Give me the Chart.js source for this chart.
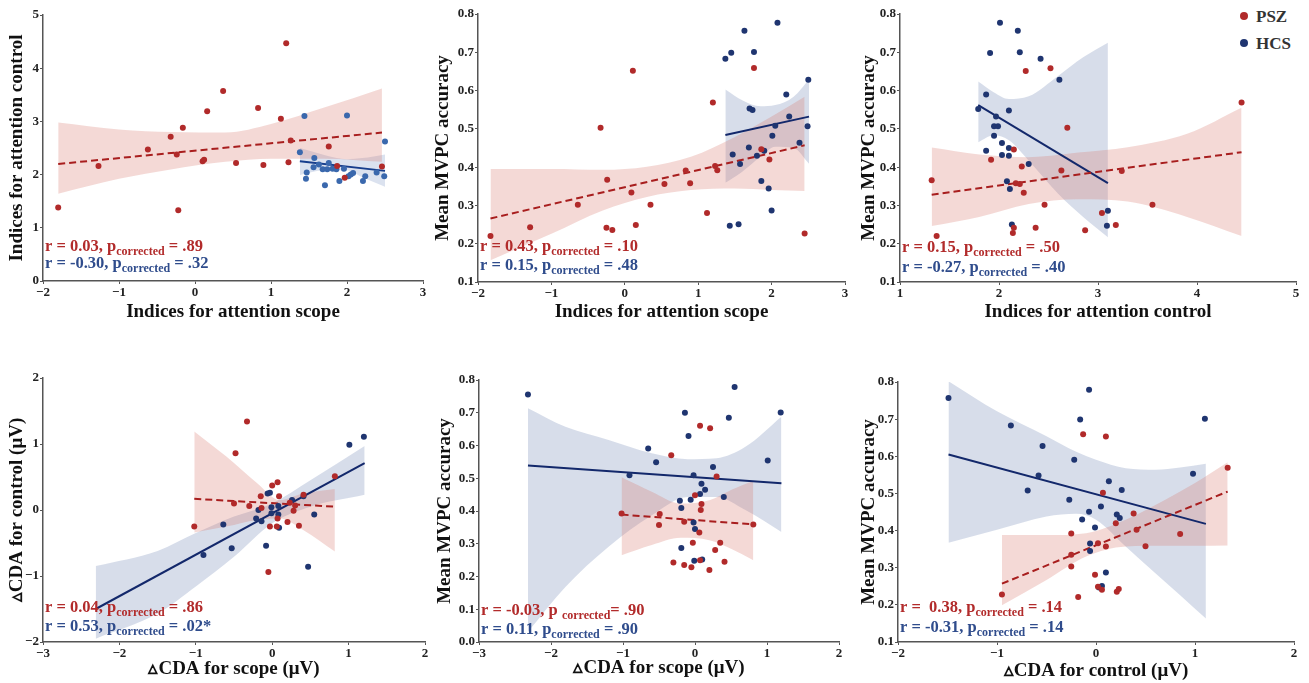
<!DOCTYPE html>
<html>
<head>
<meta charset="utf-8">
<script src="https://cdn.jsdelivr.net/npm/chart.js@4/dist/chart.umd.min.js"></script>
<style>
  body { margin: 0; background: #fff; width: 1309px; height: 683px; position: relative; overflow: hidden; }
  canvas { position: absolute; }
  .legend { position: absolute; left: 1240px; top: 3px; font: bold 17px "Liberation Serif", serif; color: #333; }
  .legend div { height: 27px; line-height: 27px; }
  .legend span { display: inline-block; width: 8px; height: 8px; border-radius: 50%; margin-right: 8px; vertical-align: 2px; }
</style>
</head>
<body>
<div class="legend">
  <div><span style="background:#b12a2a"></span>PSZ</div>
  <div><span style="background:#1f3570"></span>HCS</div>
</div>
<script>
// ---- data: [x, y] per subject ----
// panel 1: attention scope vs attention control
const p1PSZ = [[-1.80,1.38],[-1.27,2.16],[-0.62,2.47],[-0.32,2.71],[-0.24,2.38],[-0.22,1.33],[-0.16,2.88],[0.10,2.25],[0.12,2.28],[0.16,3.19],[0.37,3.57],[0.54,2.22],[0.83,3.25],[0.90,2.18],[1.13,3.05],[1.20,4.47],[1.23,2.23],[1.26,2.64],[1.76,2.53],[1.87,2.16],[1.97,1.94],[2.46,2.15]];
const p1HCS = [[1.38,2.42],[1.44,3.10],[1.46,1.92],[1.47,2.04],[1.56,2.14],[1.57,2.31],[1.63,2.19],[1.68,2.10],[1.71,1.80],[1.74,2.10],[1.76,2.22],[1.81,2.11],[1.86,2.10],[1.90,1.88],[1.96,2.11],[2.00,3.11],[2.02,1.97],[2.05,2.00],[2.08,2.03],[2.21,1.88],[2.24,1.97],[2.39,2.04],[2.49,1.97],[2.50,2.62]];
const p1FitPSZ = [[-1.80,2.20],[2.46,2.79]];
const p1FitHCS = [[1.38,2.25],[2.50,2.07]];
// bands: [x, lower, upper]
const p1BandPSZ = [[-1.80,1.64,2.98],[-1.0,1.92,2.85],[-0.3,2.10,2.80],[0.4,2.24,2.79],[1.0,2.30,2.95],[1.7,2.30,3.26],[2.46,2.24,3.62]];
const p1BandHCS = [[1.38,1.99,2.50],[1.7,2.08,2.37],[2.0,2.08,2.29],[2.2,1.95,2.31],[2.5,1.77,2.38]];

// panel 2: attention scope vs MVPC accuracy
const p2PSZ = [[-1.83,0.220],[-1.29,0.243],[-0.64,0.302],[-0.33,0.503],[-0.25,0.242],[-0.24,0.367],[-0.17,0.236],[0.09,0.334],[0.11,0.652],[0.15,0.249],[0.35,0.302],[0.54,0.356],[0.83,0.391],[0.89,0.358],[1.12,0.280],[1.20,0.569],[1.23,0.403],[1.26,0.392],[1.76,0.659],[1.86,0.447],[1.97,0.420],[2.45,0.227]];
const p2HCS = [[1.37,0.683],[1.43,0.247],[1.45,0.699],[1.47,0.433],[1.55,0.251],[1.57,0.408],[1.63,0.756],[1.69,0.451],[1.70,0.553],[1.74,0.549],[1.76,0.701],[1.80,0.430],[1.86,0.364],[1.90,0.443],[1.96,0.344],[2.00,0.287],[2.01,0.482],[2.05,0.508],[2.08,0.777],[2.20,0.590],[2.24,0.532],[2.38,0.464],[2.49,0.507],[2.50,0.628]];
const p2FitPSZ = [[-1.83,0.266],[2.45,0.457]];
const p2FitHCS = [[1.37,0.484],[2.51,0.532]];
const p2BandPSZ = [[-1.83,0.157,0.395],[-1.0,0.226,0.395],[-0.3,0.287,0.393],[0.3,0.322,0.401],[0.9,0.340,0.427],[1.5,0.344,0.479],[2.0,0.340,0.532],[2.45,0.338,0.584]];
const p2BandHCS = [[1.37,0.359,0.603],[1.6,0.388,0.575],[1.85,0.427,0.559],[2.05,0.453,0.562],[2.3,0.450,0.584],[2.51,0.409,0.629]];

// panel 3: attention control vs MVPC accuracy
const p3PSZ = [[1.32,0.366],[1.37,0.220],[1.92,0.419],[2.14,0.228],[2.15,0.446],[2.15,0.242],[2.17,0.358],[2.21,0.356],[2.23,0.402],[2.25,0.333],[2.27,0.651],[2.37,0.242],[2.46,0.302],[2.52,0.658],[2.63,0.391],[2.69,0.503],[2.87,0.235],[3.04,0.280],[3.18,0.249],[3.24,0.390],[3.55,0.302],[4.45,0.569]];
const p3HCS = [[1.79,0.552],[1.87,0.590],[1.87,0.443],[1.91,0.698],[1.95,0.507],[1.95,0.482],[1.97,0.532],[1.99,0.507],[2.01,0.777],[2.03,0.463],[2.03,0.432],[2.08,0.363],[2.10,0.548],[2.10,0.450],[2.10,0.430],[2.11,0.343],[2.13,0.250],[2.19,0.756],[2.21,0.700],[2.30,0.408],[2.42,0.683],[2.61,0.628],[3.09,0.247],[3.10,0.286]];
const p3FitPSZ = [[1.32,0.328],[4.45,0.439]];
const p3FitHCS = [[1.79,0.562],[3.10,0.358]];
const p3BandPSZ = [[1.32,0.246,0.451],[1.8,0.270,0.433],[2.3,0.304,0.426],[2.8,0.316,0.438],[3.3,0.310,0.452],[3.9,0.270,0.487],[4.45,0.220,0.555]];
const p3BandHCS = [[1.79,0.465,0.624],[1.95,0.483,0.595],[2.1,0.470,0.578],[2.3,0.417,0.585],[2.6,0.330,0.639],[2.85,0.270,0.687],[3.10,0.217,0.725]];

// panel 4: CDA scope vs CDA control
const p4PSZ = [[-1.02,-0.25],[-0.50,0.10],[-0.48,0.86],[-0.33,1.34],[-0.30,0.06],[-0.15,0.21],[-0.14,0.03],[-0.05,-0.94],[-0.03,-0.25],[0.00,0.37],[0.06,-0.25],[0.07,0.42],[0.07,-0.13],[0.09,0.21],[0.20,-0.18],[0.23,0.11],[0.28,-0.01],[0.30,0.07],[0.35,-0.24],[0.41,0.23],[0.82,0.51]];
const p4HCS = [[-0.90,-0.68],[-0.64,-0.22],[-0.53,-0.58],[-0.21,-0.13],[-0.18,0.00],[-0.14,-0.17],[-0.08,-0.54],[-0.06,0.25],[-0.03,0.26],[-0.01,0.04],[-0.01,-0.05],[0.08,-0.07],[0.08,0.06],[0.09,-0.27],[0.26,0.15],[0.41,0.21],[0.47,-0.86],[0.55,-0.07],[1.01,0.99],[1.20,1.11]];
const p4FitPSZ = [[-1.02,0.17],[0.82,0.05]];
const p4FitHCS = [[-2.31,-1.50],[1.21,0.71]];
const p4BandPSZ = [[-1.02,-0.34,1.19],[-0.6,-0.25,0.81],[-0.2,-0.15,0.41],[0.1,-0.13,0.15],[0.4,-0.30,0.25],[0.82,-0.63,0.32]];
const p4BandHCS = [[-2.31,-1.95,-0.85],[-1.5,-1.57,-0.62],[-1.0,-1.16,-0.35],[-0.5,-0.71,-0.10],[0.0,-0.20,0.10],[0.5,0.05,0.45],[1.21,0.23,0.97]];

// panel 5: CDA scope vs MVPC accuracy
const p5PSZ = [[-1.02,0.392],[-0.50,0.357],[-0.49,0.391],[-0.33,0.570],[-0.30,0.243],[-0.15,0.367],[-0.15,0.235],[-0.05,0.228],[-0.03,0.303],[0.00,0.448],[0.06,0.334],[0.07,0.660],[0.07,0.250],[0.08,0.403],[0.09,0.421],[0.20,0.220],[0.21,0.653],[0.28,0.281],[0.30,0.505],[0.35,0.303],[0.41,0.245],[0.81,0.359]];
const p5HCS = [[-2.32,0.756],[-0.91,0.509],[-0.65,0.591],[-0.54,0.549],[-0.21,0.431],[-0.19,0.409],[-0.19,0.287],[-0.14,0.700],[-0.09,0.629],[-0.06,0.434],[-0.02,0.509],[-0.02,0.365],[-0.01,0.248],[0.00,0.345],[0.07,0.452],[0.09,0.483],[0.10,0.252],[0.14,0.465],[0.25,0.534],[0.40,0.443],[0.47,0.685],[0.55,0.779],[1.01,0.554],[1.19,0.701]];
const p5FitPSZ = [[-1.02,0.389],[0.81,0.359]];
const p5FitHCS = [[-2.32,0.539],[1.20,0.485]];
const p5BandPSZ = [[-1.02,0.265,0.503],[-0.6,0.296,0.459],[-0.2,0.318,0.423],[0.2,0.311,0.433],[0.5,0.285,0.464],[0.81,0.250,0.492]];
const p5BandHCS = [[-2.32,0.031,0.714],[-1.8,0.168,0.657],[-1.2,0.291,0.617],[-0.6,0.387,0.576],[-0.1,0.443,0.558],[0.3,0.443,0.561],[0.7,0.403,0.596],[1.2,0.336,0.688]];

// panel 6: CDA control vs MVPC accuracy
const p6PSZ = [[-0.95,0.228],[-0.25,0.392],[-0.25,0.335],[-0.25,0.303],[-0.18,0.221],[-0.13,0.659],[-0.01,0.281],[0.02,0.249],[0.02,0.366],[0.06,0.241],[0.07,0.502],[0.10,0.653],[0.10,0.357],[0.20,0.420],[0.21,0.235],[0.23,0.243],[0.38,0.446],[0.41,0.402],[0.50,0.358],[0.85,0.391],[1.33,0.569]];
const p6HCS = [[-1.49,0.757],[-0.86,0.683],[-0.69,0.508],[-0.58,0.548],[-0.54,0.628],[-0.27,0.483],[-0.22,0.591],[-0.16,0.699],[-0.14,0.430],[-0.07,0.779],[-0.07,0.451],[-0.06,0.365],[-0.06,0.345],[-0.01,0.408],[0.03,0.247],[0.05,0.465],[0.06,0.251],[0.10,0.287],[0.13,0.533],[0.21,0.443],[0.24,0.434],[0.26,0.509],[0.98,0.553],[1.10,0.701]];
const p6FitPSZ = [[-0.95,0.257],[1.33,0.505]];
const p6FitHCS = [[-1.49,0.605],[1.11,0.418]];
const p6BandPSZ = [[-0.95,0.199,0.388],[-0.5,0.267,0.388],[-0.1,0.330,0.393],[0.3,0.357,0.429],[0.7,0.359,0.483],[1.0,0.359,0.528],[1.33,0.360,0.584]];
const p6BandHCS = [[-1.49,0.367,0.802],[-1.0,0.402,0.721],[-0.5,0.438,0.654],[-0.2,0.445,0.612],[0.0,0.429,0.591],[0.3,0.357,0.568],[0.6,0.285,0.564],[0.85,0.226,0.570],[1.11,0.163,0.580]];

// axis ranges [min, max, step]
const p1XRange = [-2, 3, 1], p1YRange = [0, 5, 1];
const p2XRange = [-2, 3, 1], p2YRange = [0.1, 0.8, 0.1];
const p3XRange = [1, 5, 1],  p3YRange = [0.1, 0.8, 0.1];
const p4XRange = [-3, 2, 1], p4YRange = [-2, 2, 1];
const p5XRange = [-3, 2, 1], p5YRange = [0, 0.8, 0.1];
const p6XRange = [-2, 2, 1], p6YRange = [0.1, 0.8, 0.1];

// stats text: [before subscript, subscript, after]
const p1Stats = [["r = 0.03, p", "corrected", " = .89"], ["r = -0.30, p", "corrected", " = .32"]];
const p2Stats = [["r = 0.43, p", "corrected", " = .10"], ["r = 0.15, p", "corrected", " = .48"]];
const p3Stats = [["r = 0.15, p", "corrected", " = .50"], ["r = -0.27, p", "corrected", " = .40"]];
const p4Stats = [["r = 0.04, p", "corrected", " = .86"], ["r = 0.53, p", "corrected", " = .02*"]];
const p5Stats = [["r = -0.03, p ", "corrected", "= .90"], ["r = 0.11, p", "corrected", " = .90"]];
const p6Stats = [["r =  0.38, p", "corrected", " = .14"], ["r = -0.31, p", "corrected", " = .14"]];

const FONT = '"Liberation Serif", "Times New Roman", serif';
const RED = '#b12a2a', BLUE = '#1f3570';
const RED_LINE = '#a81e1e', BLUE_LINE = '#13286b';
const RED_BAND = 'rgba(214,118,108,0.28)', BLUE_BAND = 'rgba(100,122,172,0.26)';
const RED_TEXT = '#b22b2b', BLUE_TEXT = '#2f4c8c';
const AXIS = '#555';
const DELTA = '\u25B5';

const pts = arr => arr.map(d => ({ x: d[0], y: d[1] }));

const statsPlugin = {
    id: 'stats',
    afterDraw(chart, args, opts) {
        const { ctx, chartArea } = chart;
        ctx.save();
        ctx.textBaseline = 'alphabetic';
        opts.lines.forEach((parts, i) => {
            let x = chartArea.left + opts.dx;
            const y = chartArea.bottom + opts.dy[i];
            ctx.fillStyle = i === 0 ? RED_TEXT : BLUE_TEXT;
            parts.forEach((txt, j) => {
                const sub = j === 1;
                ctx.font = 'bold ' + (sub ? 12 : 16.5) + 'px ' + FONT;
                ctx.fillText(txt, x, sub ? y + 4 : y);
                x += ctx.measureText(txt).width;
            });
        });
        ctx.restore();
    }
};

function bandSets(band, color) {
    return [
        { type: 'line', data: band.map(d => ({ x: d[0], y: d[2] })), borderWidth: 0, pointRadius: 0, fill: false, cubicInterpolationMode: 'monotone', order: 3 },
        { type: 'line', data: band.map(d => ({ x: d[0], y: d[1] })), borderWidth: 0, pointRadius: 0, fill: '-1', backgroundColor: color, cubicInterpolationMode: 'monotone', order: 3 }
    ];
}

function fitSet(fit, color, dashed) {
    return { type: 'line', data: pts(fit), borderColor: color, borderWidth: 2, borderDash: dashed ? [7, 4] : [], pointRadius: 0, fill: false, order: 2 };
}

function dotSet(data, color) {
    return { type: 'scatter', data: pts(data), backgroundColor: color, borderWidth: 0, pointRadius: 3, order: 1 };
}

function makePanel(p) {

    const cv = document.createElement('canvas');
    const [bl, bt, bw, bh] = p.box;
    const [al, at, ar, ab] = p.area;
    cv.width = bw;
    cv.height = bh;
    cv.style.left = bl + 'px';
    cv.style.top = bt + 'px';
    document.body.appendChild(cv);

    const fmt = dec => v => (v < -1e-9 ? '\u2212' : '') + Math.abs(v).toFixed(dec);

    new Chart(cv, {
        type: 'scatter',
        data: {
            datasets: [
                ...bandSets(p.bandPSZ, RED_BAND),
                ...bandSets(p.bandHCS, p.bandHCSColor || BLUE_BAND),
                fitSet(p.fitPSZ, RED_LINE, true),
                fitSet(p.fitHCS, p.hcsLine || BLUE_LINE, false),
                dotSet(p.psz, RED),
                dotSet(p.hcs, p.hcsColor || BLUE)
            ]
        },
        options: {
            responsive: false,
            animation: false,
            layout: { padding: { left: 0, top: at - bt, right: bl + bw - ar, bottom: 0 } },
            plugins: {
                legend: { display: false },
                tooltip: { enabled: false },
                stats: { lines: p.stats, dx: 2, dy: p.statsDy }
            },
            scales: {
                x: {
                    type: 'linear',
                    min: p.xr[0], max: p.xr[1],
                    afterFit: s => { s.height = bt + bh - ab; },
                    ticks: { stepSize: p.xr[2], color: '#222', padding: 1, font: { family: FONT, size: 13, weight: 'bold' }, callback: fmt(0) },
                    grid: { display: true, drawOnChartArea: false, drawTicks: true, tickLength: 3, color: AXIS },
                    border: { display: true, color: AXIS, width: 1.5 },
                    title: { display: true, text: p.xTitle, color: '#111', padding: { bottom: p.xtPad, top: 0 }, font: { family: FONT, size: 19, weight: 'bold', lineHeight: 1 } }
                },
                y: {
                    type: 'linear',
                    min: p.yr[0], max: p.yr[1],
                    afterFit: s => { s.width = al - bl; },
                    ticks: { stepSize: p.yr[2], color: '#222', padding: 1, font: { family: FONT, size: 13, weight: 'bold' }, callback: fmt(p.ydec) },
                    grid: { display: true, drawOnChartArea: false, drawTicks: true, tickLength: 3, color: AXIS },
                    border: { display: true, color: AXIS, width: 1.5 },
                    title: { display: true, text: p.yTitle, color: '#111', padding: { top: p.ytPad, bottom: 0 }, font: { family: FONT, size: 19, weight: 'bold', lineHeight: 1 } }
                }
            }
        },
        plugins: [statsPlugin]
    });
}

const panels = [
    { box: [0, 0, 430, 328], area: [43, 15, 423, 281], xr: p1XRange, yr: p1YRange, ydec: 0,
      xTitle: 'Indices for attention scope', yTitle: 'Indices for attention control', xtPad: 6, ytPad: 8,
      psz: p1PSZ, hcs: p1HCS, fitPSZ: p1FitPSZ, fitHCS: p1FitHCS, bandPSZ: p1BandPSZ, bandHCS: p1BandHCS,
      hcsColor: '#3a68ad', hcsLine: '#173e8c', bandHCSColor: 'rgba(110,140,190,0.25)',
      stats: p1Stats, statsDy: [-30, -13] },
    { box: [430, 0, 430, 328], area: [478, 14, 845, 282], xr: p2XRange, yr: p2YRange, ydec: 1,
      xTitle: 'Indices for attention scope', yTitle: 'Mean MVPC accuracy', xtPad: 6, ytPad: 4,
      psz: p2PSZ, hcs: p2HCS, fitPSZ: p2FitPSZ, fitHCS: p2FitHCS, bandPSZ: p2BandPSZ, bandHCS: p2BandHCS,
      stats: p2Stats, statsDy: [-31, -12] },
    { box: [860, 0, 449, 328], area: [900, 14, 1296, 282], xr: p3XRange, yr: p3YRange, ydec: 1,
      xTitle: 'Indices for attention control', yTitle: 'Mean MVPC accuracy', xtPad: 6, ytPad: 0,
      psz: p3PSZ, hcs: p3HCS, fitPSZ: p3FitPSZ, fitHCS: p3FitHCS, bandPSZ: p3BandPSZ, bandHCS: p3BandHCS,
      stats: p3Stats, statsDy: [-30, -10] },
    { box: [0, 350, 430, 333], area: [43, 378, 425, 642], xr: p4XRange, yr: p4YRange, ydec: 0,
      xTitle: DELTA + 'CDA for scope (\u03BCV)', yTitle: DELTA + 'CDA for control (\u03BCV)', xtPad: 4, ytPad: 8,
      psz: p4PSZ, hcs: p4HCS, fitPSZ: p4FitPSZ, fitHCS: p4FitHCS, bandPSZ: p4BandPSZ, bandHCS: p4BandHCS,
      stats: p4Stats, statsDy: [-30, -11] },
    { box: [430, 350, 430, 333], area: [479, 380, 839, 642], xr: p5XRange, yr: p5YRange, ydec: 1,
      xTitle: DELTA + 'CDA for scope (\u03BCV)', yTitle: 'Mean MVPC accuracy', xtPad: 5, ytPad: 6,
      psz: p5PSZ, hcs: p5HCS, fitPSZ: p5FitPSZ, fitHCS: p5FitHCS, bandPSZ: p5BandPSZ, bandHCS: p5BandHCS,
      stats: p5Stats, statsDy: [-27, -8] },
    { box: [860, 350, 449, 333], area: [898, 382, 1294, 642], xr: p6XRange, yr: p6YRange, ydec: 1,
      xTitle: DELTA + 'CDA for control (\u03BCV)', yTitle: 'Mean MVPC accuracy', xtPad: 2, ytPad: 0,
      psz: p6PSZ, hcs: p6HCS, fitPSZ: p6FitPSZ, fitHCS: p6FitHCS, bandPSZ: p6BandPSZ, bandHCS: p6BandHCS,
      stats: p6Stats, statsDy: [-30, -10] }
];

panels.forEach(makePanel);
</script>
</body>
</html>
